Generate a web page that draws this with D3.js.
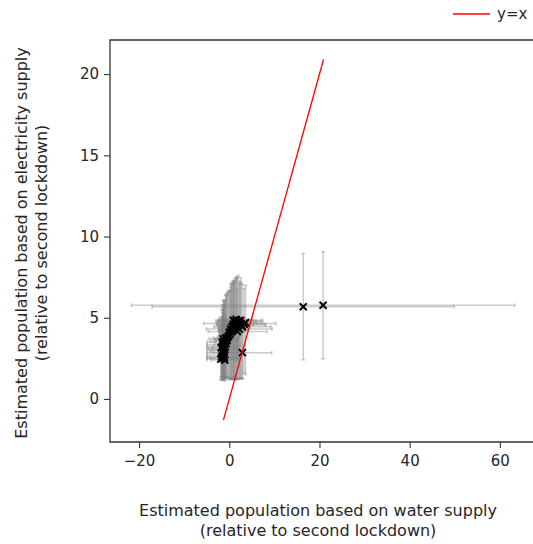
<!DOCTYPE html>
<html>
<head>
<meta charset="utf-8">
<script src="https://cdn.jsdelivr.net/npm/d3@7"></script>
<style>
  body { margin: 0; background: #fff; }
  text { font-family: "DejaVu Sans", sans-serif; fill: #262626; }
</style>
</head>
<body>
<svg id="chart"></svg>
<script>
const width = 533;
const height = 544;
const margin = {top: 40, right: -7, bottom: 102, left: 110};

// estimate based on water (x) vs electricity (y), with error bars
const xs     = [-1.9, -1.7, -1.5, -1.3, -1.1, -1.6, -1.4, -1.2, -1.0, -1.8, -1.5, -1.3, -0.9, -1.6, -1.1, -0.7, -1.4, -0.5, -0.8, -1.0,
                -0.3, -0.1, 0.2, 0.0, 0.5, 0.3, 0.8, 0.6, 1.1, 0.9, 1.4, 1.2, 1.7, 1.5, 2.0, 2.3, 2.6, 2.9, 3.3, 2.2, 1.8, 0.9, 2.9,
                -1.2, -0.6, 0.4, 1.0, 1.6, 2.5, 3.6,
                16.4, 20.8];
const ys     = [2.45, 2.6, 2.5, 2.7, 2.55, 2.85, 3.0, 2.9, 3.05, 3.15, 3.25, 3.35, 3.2, 3.5, 3.55, 3.4, 3.7, 3.6, 3.75, 2.4,
                3.8, 3.9, 4.0, 4.1, 4.15, 4.3, 4.25, 4.45, 4.4, 4.6, 4.55, 4.75, 4.7, 4.9, 4.8, 4.65, 4.55, 4.45, 4.6, 4.3, 4.15, 4.85, 2.85,
                3.1, 3.65, 4.2, 4.5, 4.8, 4.85, 4.7,
                5.68, 5.77];
const xErr   = [3.0, 3.3, 3.5, 3.6, 3.2, 3.4, 3.5, 3.1, 2.9, 3.2, 3.4, 3.7, 2.8, 3.3, 3.0, 2.6, 3.1, 2.5, 2.7, 3.0,
                2.4, 2.2, 2.5, 2.1, 2.8, 2.6, 3.2, 3.0, 3.5, 3.3, 4.0, 3.6, 4.5, 3.8, 5.0, 8.0, 5.5, 6.3, 4.6, 7.3, 6.5, 2.9, 6.5,
                3.4, 2.7, 2.6, 3.1, 4.2, 4.9, 3.8,
                33.5, 42.5];
const yErrLo = [1.3, 1.4, 1.35, 1.5, 1.4, 1.6, 1.7, 1.6, 1.8, 1.8, 1.9, 2.0, 1.9, 2.1, 2.2, 2.0, 2.3, 2.2, 2.4, 1.3,
                2.5, 2.6, 2.8, 2.9, 2.9, 3.0, 3.0, 3.2, 3.2, 3.4, 3.3, 3.5, 3.5, 3.7, 3.6, 3.4, 3.3, 3.2, 3.0, 3.0, 2.9, 3.5, 1.6,
                1.9, 2.4, 3.0, 3.3, 3.6, 3.6, 3.2,
                3.27, 3.3];
const yErrHi = [1.9, 2.0, 2.4, 2.6, 2.5, 2.2, 2.5, 2.9, 2.8, 1.9, 2.4, 2.75, 2.9, 2.0, 2.5, 3.0, 2.1, 2.9, 2.6, 2.2,
                2.8, 2.7, 2.7, 2.6, 2.9, 2.6, 3.0, 2.7, 2.9, 2.5, 2.9, 2.5, 2.8, 2.5, 2.8, 2.6, 2.6, 2.6, 2.2, 2.8, 2.6, 2.3, 1.5,
                2.9, 2.8, 2.9, 2.8, 2.7, 2.6, 2.3,
                3.27, 3.3];

const idLine = [-1.3, 20.9];
const xTicks = [-20, 0, 20, 40, 60];
const yTicks = [0, 5, 10, 15, 20];

const points = xs.map((d, i) => ({x: d, y: ys[i], xe: xErr[i], lo: yErrLo[i], hi: yErrHi[i]}));

const svg = d3.select('#chart')
    .attr('width', width)
    .attr('height', height);

const x = d3.scaleLinear().domain([-26.45, 68.9]).range([margin.left, width - margin.right]);
const y = d3.scaleLinear().domain([-2.65, 22.1]).range([height - margin.bottom, margin.top]);

const plot = svg.append('g');

// error bars
const bars = plot.append('g')
    .attr('stroke', '#808080')
    .attr('stroke-opacity', 0.4)
    .attr('stroke-width', 1.5)
    .attr('fill', 'none');

const cap = 2;
points.forEach(p => {
    const g = bars.append('g');
    g.append('line')
        .attr('x1', x(p.x - p.xe)).attr('x2', x(p.x + p.xe))
        .attr('y1', y(p.y)).attr('y2', y(p.y));
    g.append('line')
        .attr('x1', x(p.x)).attr('x2', x(p.x))
        .attr('y1', y(p.y - p.lo)).attr('y2', y(p.y + p.hi));
    [p.x - p.xe, p.x + p.xe].forEach(v => {
        g.append('line')
            .attr('x1', x(v)).attr('x2', x(v))
            .attr('y1', y(p.y) - cap).attr('y2', y(p.y) + cap);
    });
    [p.y - p.lo, p.y + p.hi].forEach(v => {
        g.append('line')
            .attr('x1', x(p.x) - cap).attr('x2', x(p.x) + cap)
            .attr('y1', y(v)).attr('y2', y(v));
    });
});

// x markers
const ms = 3.5;
plot.append('g').selectAll('path')
    .data(points)
    .enter().append('path')
    .attr('d', d => {
        const cx = x(d.x), cy = y(d.y);
        return `M${cx - ms},${cy - ms}L${cx + ms},${cy + ms}M${cx - ms},${cy + ms}L${cx + ms},${cy - ms}`;
    })
    .attr('stroke', '#000')
    .attr('stroke-width', 2)
    .attr('fill', 'none');

// y = x line
plot.append('line')
    .attr('x1', x(idLine[0])).attr('y1', y(idLine[0]))
    .attr('x2', x(idLine[1])).attr('y2', y(idLine[1]))
    .attr('stroke', '#ff0000')
    .attr('stroke-width', 1.3);

// axes
const xAxis = svg.append('g')
    .attr('transform', `translate(0, ${height - margin.bottom})`)
    .call(d3.axisBottom(x).tickValues(xTicks).tickSize(6).tickPadding(7).tickFormat(d3.format('d')));
const yAxis = svg.append('g')
    .attr('transform', `translate(${margin.left}, 0)`)
    .call(d3.axisLeft(y).tickValues(yTicks).tickSize(6).tickPadding(5));

[xAxis, yAxis].forEach(a => {
    a.select('.domain').remove();
    a.selectAll('line').attr('stroke', '#333').attr('stroke-width', 1.1);
    a.selectAll('text').style('font-size', '15px').style('font-family', '"DejaVu Sans", sans-serif').attr('fill', '#262626');
});

// frame
svg.append('path')
    .attr('d', `M${width + 5},${margin.top}H${margin.left}V${height - margin.bottom}H${width + 5}`)
    .attr('fill', 'none')
    .attr('stroke', '#333')
    .attr('stroke-width', 1.3);

// labels
const xLab = svg.append('text')
    .attr('text-anchor', 'middle')
    .style('font-size', '16px');
xLab.append('tspan').attr('x', 318).attr('y', 516).text('Estimated population based on water supply');
xLab.append('tspan').attr('x', 318).attr('y', 536).text('(relative to second lockdown)');

const yLab = svg.append('text')
    .attr('text-anchor', 'middle')
    .attr('transform', 'translate(0, 243) rotate(-90)')
    .style('font-size', '16px');
yLab.append('tspan').attr('x', 0).attr('y', 27).text('Estimated population based on electricity supply');
yLab.append('tspan').attr('x', 0).attr('y', 47).text('(relative to second lockdown)');

// legend
const legend = svg.append('g');
legend.append('line')
    .attr('x1', 453).attr('x2', 490)
    .attr('y1', 14).attr('y2', 14)
    .attr('stroke', '#ff0000')
    .attr('stroke-width', 1.3);
legend.append('text')
    .attr('x', 497).attr('y', 19)
    .style('font-size', '15px')
    .text('y=x');
</script>
</body>
</html>
